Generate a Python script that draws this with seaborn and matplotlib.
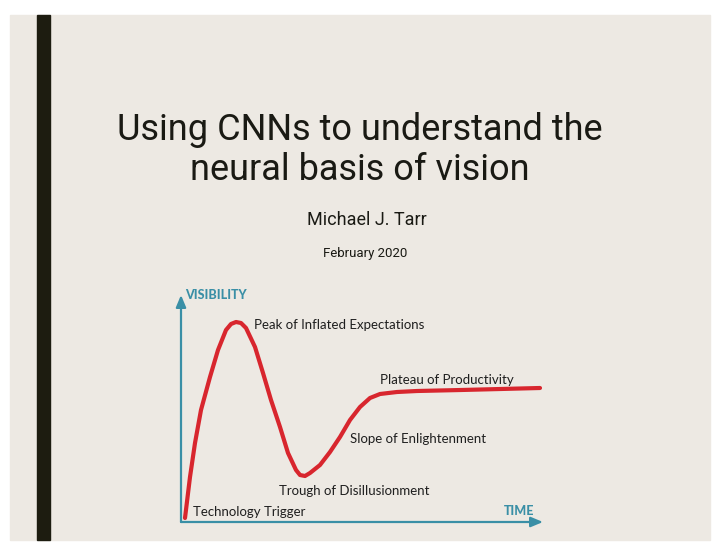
"""Title slide with the hype-cycle curve."""

import matplotlib

matplotlib.use("Agg")
import matplotlib.pyplot as plt
import seaborn as sns
from matplotlib.patches import Rectangle

# curve (time, visibility)
time = [4, 9, 14, 20, 29, 37, 45, 50, 55, 60, 65, 74, 82, 90, 99, 107, 115,
        119, 124, 129, 139, 149, 159, 169, 179, 189, 199, 216, 236, 280, 359]
visibility = [4, 45, 79, 112, 145, 172, 192, 198, 200, 199, 194, 175, 149,
              122, 95, 69, 52, 47, 46, 49, 57, 70, 85, 102, 115, 124, 128, 130,
              131, 132, 134]

stage_labels = ["Peak of Inflated Expectations", "Plateau of Productivity",
                "Slope of Enlightenment", "Trough of Disillusionment",
                "Technology Trigger"]
stage_x = [73, 199, 169, 98, 12]
stage_y = [197, 142, 83, 31, 10]

title_lines = ["Using CNNs to understand the", "neural basis of vision"]
author = "Michael J. Tarr"
date = "February 2020"

SLIDE_BG = "#ede9e3"
BAR = "#1d1c10"
RED = "#d8262e"
TEAL = "#3a8fa6"

sns.set_theme(style="white")
plt.rcParams["font.family"] = ["Lato", "DejaVu Sans"]

fig = plt.figure(figsize=(7.2, 5.57), dpi=100)
fig.patch.set_facecolor("white")
fig.add_artist(Rectangle((10 / 720, 17 / 557), 700 / 720, 525 / 557,
                         transform=fig.transFigure, color=SLIDE_BG, zorder=0))
fig.add_artist(Rectangle((37 / 720, 17 / 557), 13 / 720, 525 / 557,
                         transform=fig.transFigure, color=BAR, zorder=1))

title_font = ["Roboto", "DejaVu Sans"]
fig.text(360 / 720, 1 - 130 / 557, title_lines[0], ha="center", va="center",
         fontsize=26, color="#1a1a14", family=title_font)
fig.text(360 / 720, 1 - 170 / 557, title_lines[1], ha="center", va="center",
         fontsize=26, color="#1a1a14", family=title_font)
fig.text(367 / 720, 1 - 220 / 557, author, ha="center", va="center",
         fontsize=13, color="#1a1a14", family=title_font)
fig.text(365 / 720, 1 - 254 / 557, date, ha="center", va="center",
         fontsize=9.5, color="#1a1a14", family=title_font)

ax = fig.add_axes([181 / 720, 35 / 557, 364 / 720, 230 / 557])
ax.set_xlim(0, 364)
ax.set_ylim(0, 230)
ax.axis("off")

sns.lineplot(x=time, y=visibility, sort=False, color=RED, linewidth=3,
             ax=ax, solid_capstyle="round", solid_joinstyle="round")

arrow = dict(arrowstyle="-|>,head_length=0.6,head_width=0.25", color=TEAL,
             lw=1.6, shrinkA=0, shrinkB=0)
ax.annotate("", xy=(0, 227), xytext=(0, 0), arrowprops=arrow,
            annotation_clip=False)
ax.annotate("", xy=(362, 0), xytext=(0, 0), arrowprops=arrow,
            annotation_clip=False)

ax.text(4, 227, "VISIBILITY", color=TEAL, fontsize=9, fontweight="black",
        va="center", ha="left", clip_on=False)
ax.text(353, 11, "TIME", color=TEAL, fontsize=9, fontweight="black",
        va="center", ha="right", clip_on=False)

for label, x, y in zip(stage_labels, stage_x, stage_y):
    ax.text(x, y, label, fontsize=9.5, color="#1f1f1f", va="center", ha="left")

fig.savefig("out.png", dpi=100, facecolor=fig.get_facecolor())
